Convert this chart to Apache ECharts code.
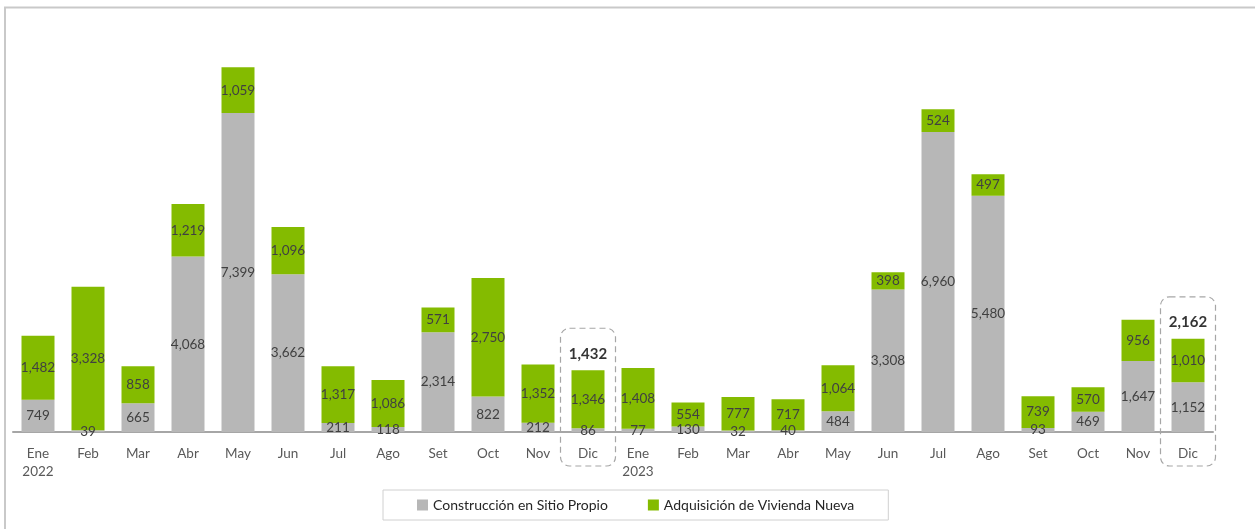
<!DOCTYPE html>
<html>
<head>
<meta charset="utf-8">
<script src="https://cdn.jsdelivr.net/npm/echarts@6/dist/echarts.min.js"></script>
<style>
  html, body { margin: 0; padding: 0; background: #fff; }
  #chart { width: 1255px; height: 529px; }
</style>
</head>
<body>
<div id="chart"></div>
<script>
const months = ["Ene\n2022", "Feb", "Mar", "Abr", "May", "Jun", "Jul", "Ago", "Set", "Oct", "Nov", "Dic",
                "Ene\n2023", "Feb", "Mar", "Abr", "May", "Jun", "Jul", "Ago", "Set", "Oct", "Nov", "Dic"];
const construccion = [749, 39, 665, 4068, 7399, 3662, 211, 118, 2314, 822, 212, 86,
                      77, 130, 32, 40, 484, 3308, 6960, 5480, 93, 469, 1647, 1152];
const adquisicion = [1482, 3328, 858, 1219, 1059, 1096, 1317, 1086, 571, 2750, 1352, 1346,
                     1408, 554, 777, 717, 1064, 398, 524, 497, 739, 570, 956, 1010];
const highlighted = [11, 23];

const totals = months.map((m, i) =>
    highlighted.includes(i) ? construccion[i] + adquisicion[i] : null);

const FONT = "Lato, 'Noto Sans', sans-serif";
const fmt = v => Number(v).toLocaleString("en-US");

const chart = echarts.init(document.getElementById("chart"));

const option = {
    animation: false,
    textStyle: { fontFamily: FONT },
    grid: { left: 13, right: 42, top: 44, bottom: 97 },
    legend: {
        data: ["Construcción en Sitio Propio", "Adquisición de Vivienda Nueva"],
        left: 383,
        top: 490,
        padding: [8, 34, 8, 34],
        borderColor: "#d0d0d0",
        borderWidth: 1,
        icon: "rect",
        itemWidth: 11,
        itemHeight: 11,
        itemGap: 40,
        textStyle: { fontFamily: FONT, fontSize: 14, color: "#262626" }
    },
    xAxis: {
        type: "category",
        data: months,
        axisLine: { lineStyle: { color: "#a6a6a6", width: 2 } },
        axisTick: { show: false },
        axisLabel: {
            color: "#595959",
            fontSize: 13.5,
            lineHeight: 18,
            margin: 13,
            interval: 0
        }
    },
    yAxis: {
        type: "value",
        min: 0,
        max: 9000,
        show: false,
        splitLine: { show: false }
    },
    series: [
        {
            name: "Construcción en Sitio Propio",
            type: "bar",
            stack: "total",
            data: construccion,
            barWidth: 33,
            itemStyle: { color: "#b7b7b7" },
            label: {
                show: true,
                position: "inside",
                color: "#404040",
                fontSize: 13.5,
                formatter: p => fmt(p.value)
            }
        },
        {
            name: "Adquisición de Vivienda Nueva",
            type: "bar",
            stack: "total",
            data: adquisicion,
            barWidth: 33,
            itemStyle: { color: "#84bb00" },
            label: {
                show: true,
                position: "inside",
                color: "#404040",
                fontSize: 13.5,
                formatter: p => fmt(p.value)
            }
        },
        {
            name: "Total",
            type: "scatter",
            data: totals,
            symbolSize: 0,
            silent: true,
            label: {
                show: true,
                position: "top",
                distance: 9,
                color: "#000",
                fontWeight: "bold",
                fontSize: 15,
                formatter: p => fmt(p.value)
            }
        }
    ]
};

chart.setOption(option);

// dashed rounded frames around the highlighted December columns
const boxes = highlighted.map(i => {
    const top = chart.convertToPixel({ gridIndex: 0 }, [i, totals[i]]);
    const base = chart.convertToPixel({ gridIndex: 0 }, [i, 0]);
    return {
        type: "rect",
        shape: { x: top[0] - 27.5, y: top[1] - 42, width: 55, height: base[1] - top[1] + 76, r: 9 },
        style: { fill: "none", stroke: "#a6a6a6", lineWidth: 1.2, lineDash: [6, 4] },
        z: 10
    };
});

chart.setOption({
    graphic: [
        {
            type: "polyline",
            shape: { points: [[5, 529], [5, 7.5], [1255, 7.5]] },
            style: { fill: "none", stroke: "#c9c9c9", lineWidth: 2 }
        },
        ...boxes
    ]
});
</script>
</body>
</html>
